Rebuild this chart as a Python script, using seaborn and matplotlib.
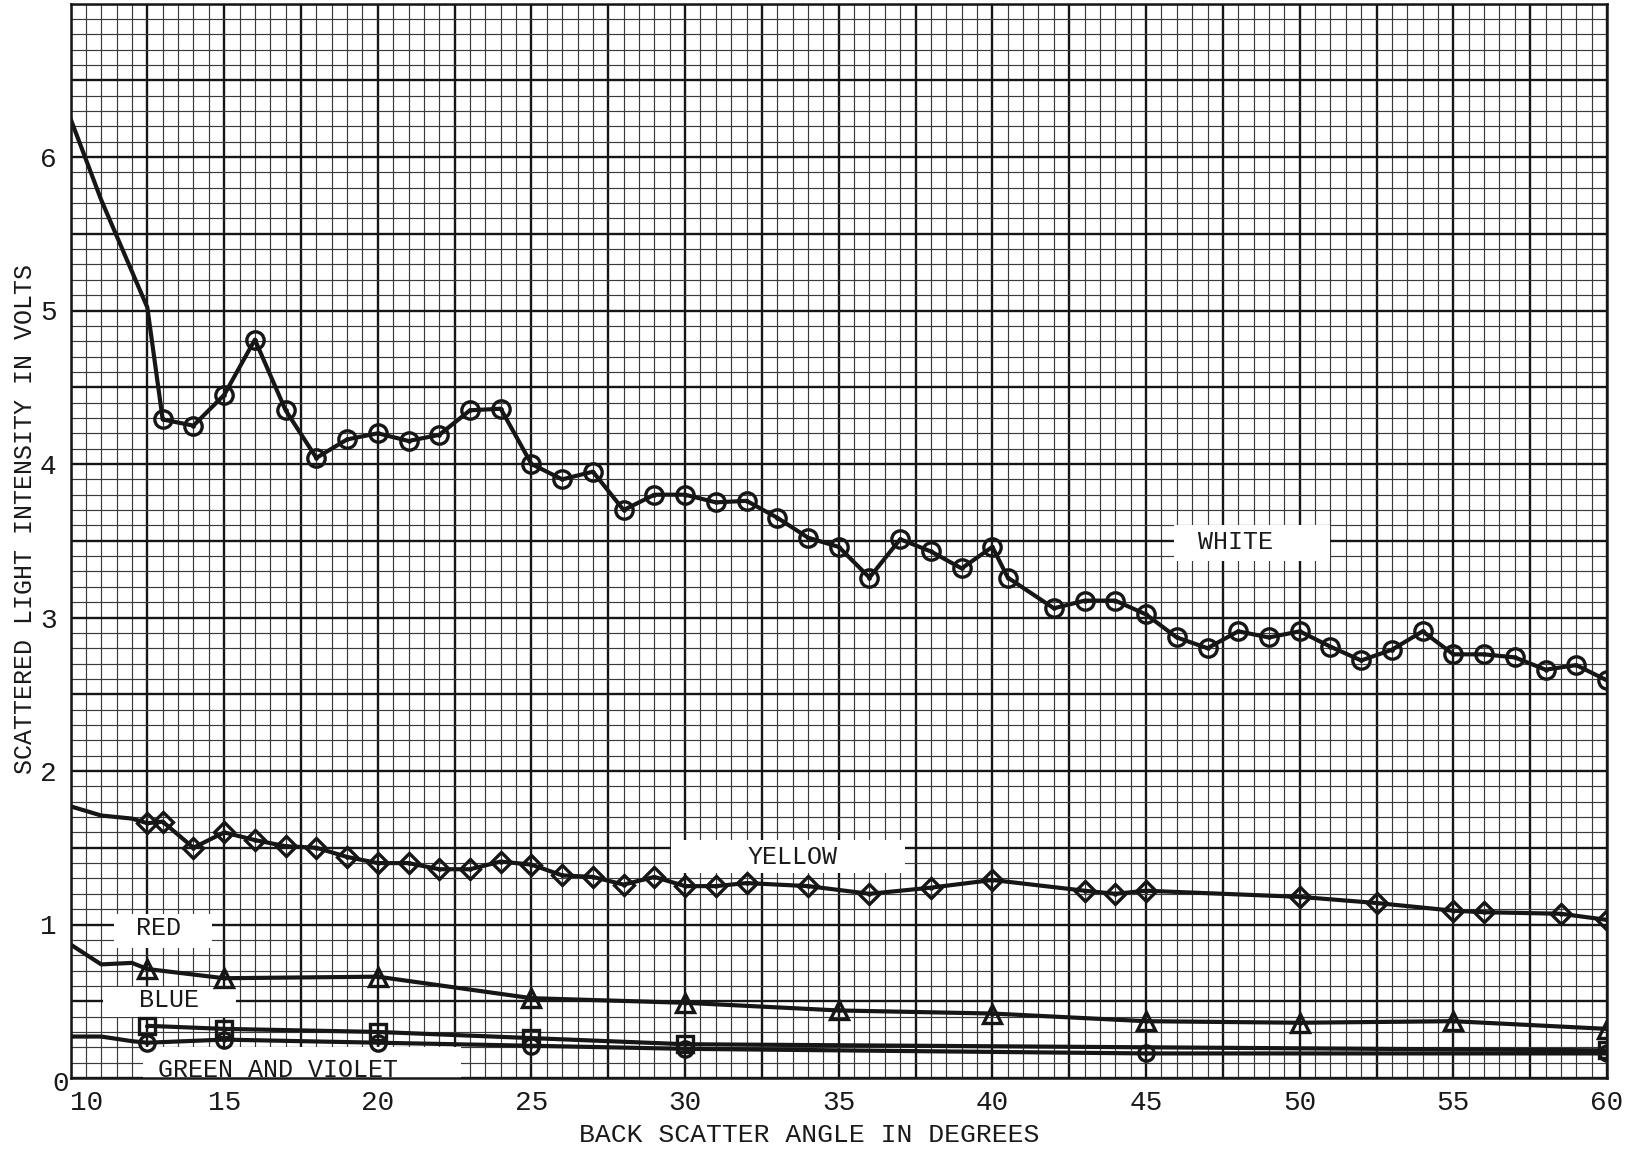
import matplotlib
matplotlib.use("Agg")
import matplotlib.pyplot as plt
import seaborn as sns
from matplotlib.ticker import MultipleLocator, FuncFormatter
from matplotlib.patches import Rectangle

# ---------------- data ----------------
white_x = [10, 11, 12.5, 13, 14, 15, 16, 17, 18, 19, 20, 21, 22, 23, 24, 25, 26, 27, 28, 29,
           30, 31, 32, 33, 34, 35, 36, 37, 38, 39, 40, 40.5, 42, 43, 44, 45, 46, 47, 48, 49,
           50, 51, 52, 53, 54, 55, 56, 57, 58, 59, 60]
white_y = [6.25, 5.72, 5.02, 4.29, 4.25, 4.45, 4.81, 4.35, 4.04, 4.16, 4.20, 4.15, 4.19, 4.35,
           4.36, 4.00, 3.90, 3.95, 3.70, 3.80, 3.80, 3.75, 3.76, 3.65, 3.52, 3.46, 3.26, 3.51,
           3.43, 3.32, 3.46, 3.26, 3.06, 3.11, 3.11, 3.02, 2.87, 2.80, 2.91, 2.87, 2.91, 2.81,
           2.72, 2.79, 2.91, 2.76, 2.76, 2.74, 2.66, 2.69, 2.59]
white_first_marker = 3

yellow_x = [10, 11, 12, 12.5, 13, 14, 15, 16, 17, 18, 19, 20, 21, 22, 23, 24, 25, 26, 27, 28,
            29, 30, 31, 32, 34, 36, 38, 40, 43, 44, 45, 50, 52.5, 55, 56, 58.5, 60]
yellow_y = [1.77, 1.71, 1.69, 1.66, 1.67, 1.50, 1.60, 1.55, 1.51, 1.50, 1.44, 1.40, 1.40, 1.36,
            1.36, 1.41, 1.39, 1.32, 1.31, 1.26, 1.31, 1.25, 1.25, 1.27, 1.25, 1.20, 1.24, 1.29,
            1.22, 1.20, 1.22, 1.18, 1.14, 1.09, 1.08, 1.07, 1.03]
yellow_first_marker = 3

red_x = [10, 11, 12, 12.5, 15, 20, 25, 30, 35, 40, 45, 50, 55, 60]
red_y = [0.87, 0.74, 0.75, 0.71, 0.65, 0.66, 0.52, 0.49, 0.44, 0.42, 0.37, 0.36, 0.37, 0.32]
red_first_marker = 3

blue_x = [12.5, 15, 20, 25, 30, 60]
blue_y = [0.34, 0.32, 0.30, 0.26, 0.22, 0.18]
blue_first_marker = 0

green_x = [10, 11, 12, 12.5, 15, 20, 25, 30, 45, 60]
green_y = [0.27, 0.27, 0.24, 0.23, 0.25, 0.23, 0.21, 0.19, 0.16, 0.16]
green_first_marker = 3

x_label = "BACK SCATTER ANGLE IN DEGREES"
y_label = "SCATTERED LIGHT INTENSITY IN VOLTS"

series_labels = ["WHITE", "YELLOW", "RED", "BLUE", "GREEN AND VIOLET"]

# ---------------- style ----------------
sns.set_style("white")
plt.rcParams["font.family"] = ["Liberation Mono", "DejaVu Sans Mono"]

INK = "#161616"
TXT = "#1a1a1a"

fig = plt.figure(figsize=(16.27, 11.59), dpi=100, facecolor="white")
ax = fig.add_axes([70.5 / 1627, 1 - 1078 / 1159, (1607 - 70.5) / 1627, (1078 - 3.5) / 1159])
ax.set_facecolor("white")
ax.set_xlim(10, 60)
ax.set_ylim(0, 7)

ax.xaxis.set_major_locator(MultipleLocator(2.5))
ax.xaxis.set_minor_locator(MultipleLocator(0.5))
ax.yaxis.set_major_locator(MultipleLocator(0.5))
ax.yaxis.set_minor_locator(MultipleLocator(0.1))

ax.xaxis.set_major_formatter(FuncFormatter(
    lambda v, p: f"{int(round(v))}" if abs(v / 5 - round(v / 5)) < 1e-6 else ""))
ax.yaxis.set_major_formatter(FuncFormatter(
    lambda v, p: f"{int(round(v))}" if abs(v - round(v)) < 1e-6 and 1 <= round(v) <= 6 else ""))

ax.grid(which="minor", color="#3a3a3a", lw=0.85)
ax.grid(which="major", color=INK, lw=1.7)
ax.set_axisbelow(True)
ax.tick_params(which="both", length=0)
ax.tick_params(axis="x", pad=9, labelsize=20, colors=TXT)
ax.tick_params(axis="y", pad=10, labelsize=20, colors=TXT)
for s in ax.spines.values():
    s.set_color(INK)
    s.set_linewidth(1.8)

for lab in ax.get_xticklabels():
    if lab.get_text() == "10":
        lab.set_ha("left")

ax.text(-0.001, -0.006, "0", transform=ax.transAxes, ha="right", va="center",
        fontsize=20, color=TXT)

ax.set_xlabel(x_label, fontsize=19, color=TXT)
ax.set_ylabel(y_label, fontsize=18, color=TXT)
ax.xaxis.set_label_coords(0.481, -0.042)
ax.yaxis.set_label_coords(-0.022, 0.52)

# ---------------- label boxes ----------------
boxes = [  # (x0, y0, w, h, text x, text y)
    (45.9, 3.37, 5.1, 0.23, 47.9, 3.49),
    (29.55, 1.335, 7.6, 0.215, 33.5, 1.44),
    (11.4, 0.85, 3.2, 0.22, 12.85, 0.975),
    (11.05, 0.40, 4.35, 0.19, 13.2, 0.51),
    (12.35, 0.0, 10.35, 0.20, 16.75, 0.055),
]
for (x0, y0, w, h, tx, ty), txt in zip(boxes, series_labels):
    ax.add_patch(Rectangle((x0, y0), w, h, facecolor="white", edgecolor="none", zorder=1.5))
    ax.text(tx, ty, txt, ha="center", va="center", fontsize=18, color=TXT, zorder=4)

# ---------------- series ----------------
def draw(xs, ys, first, marker, ms, center="."):
    idx = list(range(first, len(xs)))
    sns.lineplot(x=xs, y=ys, ax=ax, color=INK, lw=3.0, estimator=None, sort=False,
                 marker=marker, markevery=idx, markersize=ms, markerfacecolor="none",
                 markeredgecolor=INK, markeredgewidth=2.4, zorder=3)
    sns.scatterplot(x=xs[first:], y=ys[first:], ax=ax, marker=center, s=45, color=INK,
                    linewidth=0, zorder=3.5)

draw(white_x, white_y, white_first_marker, "o", 12.5)
draw(yellow_x, yellow_y, yellow_first_marker, "D", 10.5)
draw(red_x, red_y, red_first_marker, "^", 13)
draw(blue_x, blue_y, blue_first_marker, "s", 11)
draw(green_x, green_y, green_first_marker, "o", 11)

fig.savefig("out.png", dpi=100, facecolor="white")
